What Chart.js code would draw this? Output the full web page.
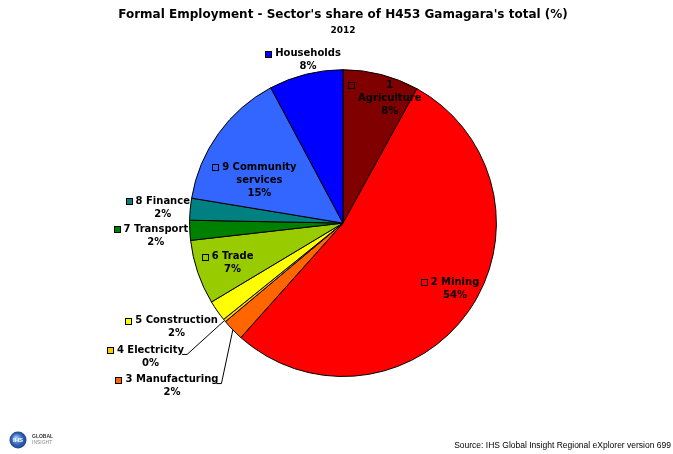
<!DOCTYPE html>
<html>
<head>
<meta charset="utf-8">
<script src="https://cdn.jsdelivr.net/npm/chart.js@4.4.1/dist/chart.umd.min.js"></script>
<style>
    html, body { margin: 0; padding: 0; background: #fff; }
    #wrap { width: 673px; height: 454px; }
</style>
</head>
<body>
<div id="wrap"><canvas id="ChartEmployment" width="673" height="454"></canvas></div>
<script>
const sectors = [
    "1 Agriculture",
    "2 Mining",
    "3 Manufacturing",
    "4 Electricity",
    "5 Construction",
    "6 Trade",
    "7 Transport",
    "8 Finance",
    "9 Community services",
    "Households",
];
// share of total formal employment, 2012 (%)
const shares = [8.0, 53.6, 2.3, 0.3, 2.2, 6.8, 2.1, 2.3, 14.6, 7.8];

const sliceColors = [
    "#800000", "#FF0000", "#FF6600", "#FFCC00", "#FFFF00",
    "#99CC00", "#008000", "#008080", "#3366FF", "#0000FF",
];

// label placement relative to the pie centre, in units of the radius
const labelPlacement = [
    { dx: 0.305, dy: -0.9, wrap: 70 },
    { dx: 0.73, dy: 0.385 },
    { dx: -1.115, dy: 1.02, leader: true },
    { dx: -1.255, dy: 0.83, leader: true },
    { dx: -1.085, dy: 0.635 },
    { dx: -0.72, dy: 0.22 },
    { dx: -1.22, dy: 0.04 },
    { dx: -1.175, dy: -0.143 },
    { dx: -0.545, dy: -0.363, wrap: 85 },
    { dx: -0.228, dy: -1.105 },
];

function wrapText(ctx, text, maxWidth) {
    if (!maxWidth || ctx.measureText(text).width <= maxWidth) return [text];
    const words = text.split(" ");
    const lines = [];
    let line = "";
    words.forEach((word) => {
        const test = line ? line + " " + word : word;
        if (line && ctx.measureText(test).width > maxWidth) {
            lines.push(line);
            line = word;
        } else {
            line = test;
        }
    });
    if (line) lines.push(line);
    return lines;
}

// data labels with a small colour key, plus leader lines for thin slices
const sliceLabels = {
    id: "sliceLabels",
    afterDatasetsDraw(chart) {
        const ctx = chart.ctx;
        const arcs = chart.getDatasetMeta(0).data;
        ctx.save();
        ctx.font = "bold 10px 'DejaVu Sans'";
        ctx.textBaseline = "middle";
        ctx.textAlign = "center";
        arcs.forEach((arc, i) => {
            const place = labelPlacement[i];
            const r = arc.outerRadius;
            const cx = arc.x + place.dx * r;
            const cy = arc.y + place.dy * r;
            const lines = wrapText(ctx, sectors[i], place.wrap);
            lines.push(Math.round(shares[i]) + "%");
            const blockW = Math.max(...lines.map((l) => ctx.measureText(l).width));

            const keyX = Math.round(cx - blockW / 2 - 10) + 0.5;
            const keyY = Math.round(cy - 3) + 0.5;
            ctx.fillStyle = sliceColors[i];
            ctx.fillRect(keyX, keyY, 6, 6);
            ctx.strokeStyle = "#000";
            ctx.lineWidth = 1;
            ctx.strokeRect(keyX, keyY, 6, 6);

            ctx.fillStyle = "#000";
            lines.forEach((l, j) => ctx.fillText(l, cx, cy + j * 13));

            if (place.leader) {
                const mid = (arc.startAngle + arc.endAngle) / 2;
                const ex = arc.x + Math.cos(mid) * r;
                const ey = arc.y + Math.sin(mid) * r;
                const sx = cx + ctx.measureText(lines[0]).width / 2;
                const sy = cy + 4;
                ctx.beginPath();
                ctx.moveTo(sx - 2, sy);
                ctx.lineTo(sx + 3, sy);
                ctx.lineTo(ex, ey);
                ctx.stroke();
            }
        });
        ctx.restore();
    },
    afterDraw(chart) {
        const ctx = chart.ctx;
        const h = chart.height;
        ctx.save();
        ctx.fillStyle = "#000";
        ctx.font = "8.5px 'Liberation Sans'";
        ctx.textAlign = "right";
        ctx.textBaseline = "middle";
        ctx.fillText("Source: IHS Global Insight Regional eXplorer version 699", chart.width - 2, h - 8);

        // logo in the bottom-left corner
        ctx.filter = "blur(0.6px)";
        const g = ctx.createRadialGradient(16, h - 16, 1, 18, h - 14, 9);
        g.addColorStop(0, "#9ec4ee");
        g.addColorStop(0.6, "#2f62b5");
        g.addColorStop(1, "#1d3f86");
        ctx.fillStyle = g;
        ctx.beginPath();
        ctx.arc(18, h - 14, 8.5, 0, Math.PI * 2);
        ctx.fill();
        ctx.fillStyle = "#fff";
        ctx.font = "bold 6px 'Liberation Sans'";
        ctx.textAlign = "center";
        ctx.fillText("IHS", 18, h - 14);
        ctx.textAlign = "left";
        ctx.fillStyle = "#333";
        ctx.font = "bold 5px 'Liberation Sans'";
        ctx.fillText("GLOBAL", 32, h - 17);
        ctx.fillStyle = "#888";
        ctx.font = "5px 'Liberation Sans'";
        ctx.fillText("INSIGHT", 32, h - 11);
        ctx.restore();
    },
};

document.addEventListener("DOMContentLoaded", function () {
    const ctx = document.getElementById("ChartEmployment");
    new Chart(ctx, {
        type: "pie",
        data: {
            labels: sectors,
            datasets: [
                {
                    data: shares,
                    backgroundColor: sliceColors,
                    borderColor: "#000",
                    borderWidth: 1,
                },
            ],
        },
        options: {
            responsive: false,
            animation: false,
            layout: {
                padding: { top: 0, left: 13, right: 0, bottom: 77 },
            },
            plugins: {
                legend: { display: false },
                tooltip: { enabled: false },
                title: {
                    display: true,
                    text: "Formal Employment - Sector's share of H453 Gamagara's total (%)",
                    color: "#000",
                    font: { family: "'DejaVu Sans'", size: 12, weight: "bold" },
                    padding: { top: 8, bottom: 1 },
                },
                subtitle: {
                    display: true,
                    text: "2012",
                    color: "#000",
                    font: { family: "'DejaVu Sans'", size: 9, weight: "bold" },
                    padding: { top: 2, bottom: 33 },
                },
            },
        },
        plugins: [sliceLabels],
    });
});
</script>
</body>
</html>
